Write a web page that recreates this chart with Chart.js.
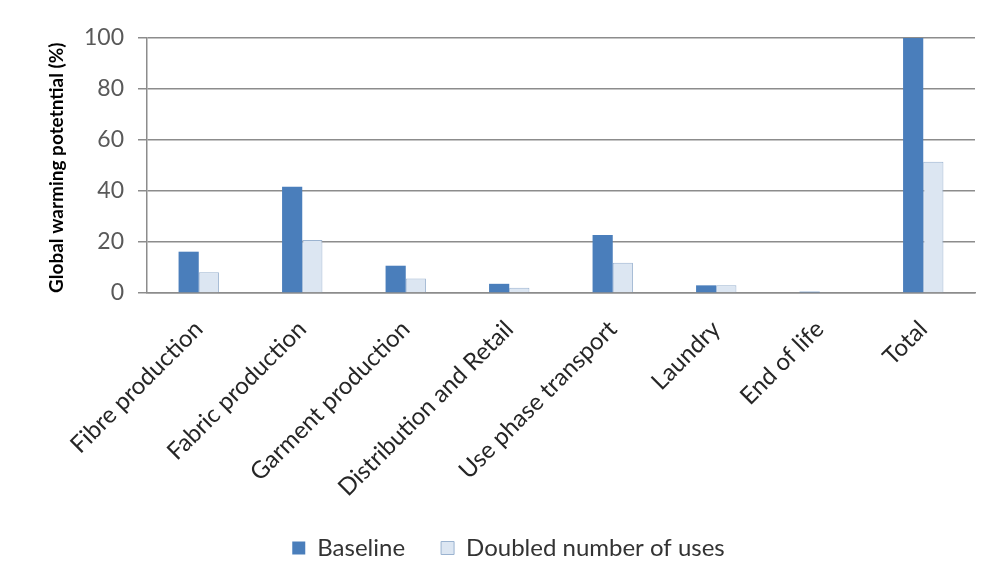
<!DOCTYPE html>
<html>
<head>
<meta charset="utf-8">
<script src="https://cdn.jsdelivr.net/npm/chart.js@4.4.1/dist/chart.umd.min.js"></script>
<style>
  html, body { margin: 0; padding: 0; background: #ffffff; }
  #wrap { width: 991px; height: 580px; position: relative; }
</style>
</head>
<body>
<div id="wrap"><canvas id="c" width="991" height="580"></canvas></div>
<script>
// Life-cycle stages of the garment
const stages = [
  'Fibre production',
  'Fabric production',
  'Garment production',
  'Distribution and Retail',
  'Use phase transport',
  'Laundry',
  'End of life',
  'Total'
];

// Global warming potential, % of baseline total
const baseline = [16.2, 41.7, 10.7, 3.6, 22.7, 3.0, 0.5, 100];
const doubledUses = [8.1, 20.8, 5.7, 2.1, 11.9, 3.0, 0.3, 51.5];

const seriesNames = ['Baseline', 'Doubled number of uses'];
const yTicks = [0, 20, 40, 60, 80, 100];

const FONT = 'Lato, "Open Sans", sans-serif';
const LEGEND_FONT = 24;
const LEGEND_PAD = 36;

// Places the bottom legend row at a fixed baseline under the axis labels
const legendPlacer = {
  id: 'legendPlacer',
  afterLayout(chart) {
    const lg = chart.legend;
    if (!lg) return;
    const dy = 548 - (lg.top + LEGEND_PAD + LEGEND_FONT / 2);
    const dx = 21;
    lg.top += dy; lg.bottom += dy;
    lg.left += dx; lg.right += dx;
  }
};

new Chart(document.getElementById('c'), {
  type: 'bar',
  data: {
    labels: stages,
    datasets: [
      {
        label: seriesNames[0],
        data: baseline,
        backgroundColor: '#4a7ebb',
        borderColor: '#4a7ebb',
        borderWidth: 0,
        categoryPercentage: 0.39,
        barPercentage: 1.0
      },
      {
        label: seriesNames[1],
        data: doubledUses,
        backgroundColor: '#dce6f2',
        borderColor: '#9bb3d0',
        borderWidth: 1,
        categoryPercentage: 0.39,
        barPercentage: 1.0
      }
    ]
  },
  plugins: [legendPlacer],
  options: {
    responsive: false,
    animation: false,
    devicePixelRatio: 1,
    layout: { padding: { left: 0, right: 16, top: 38, bottom: 0 } },
    plugins: {
      tooltip: { enabled: false },
      legend: {
        position: 'bottom',
        labels: {
          font: { family: FONT, size: LEGEND_FONT },
          color: '#333333',
          boxWidth: 13,
          boxHeight: 13,
          padding: LEGEND_PAD
        }
      }
    },
    scales: {
      x: {
        grid: { display: false, drawTicks: false },
        border: { display: true, color: '#8c8c8c', width: 1.5 },
        ticks: {
          autoSkip: false,
          minRotation: 45,
          maxRotation: 45,
          padding: 22,
          color: '#262626',
          font: { family: FONT, size: 24 }
        },
        afterFit: (s) => { s.height = 217; }
      },
      y: {
        min: 0,
        max: 100,
        afterBuildTicks: (s) => { s.ticks = yTicks.map(v => ({ value: v })); },
        grid: {
          color: '#8c8c8c',
          lineWidth: 1.5,
          tickLength: 9,
          drawTicks: true
        },
        border: { display: true, color: '#8c8c8c', width: 1.5 },
        ticks: {
          padding: 14,
          color: '#595959',
          font: { family: FONT, size: 23 }
        },
        title: {
          display: true,
          align: 'start',
          text: 'Global warming potetntial (%)',
          color: '#000000',
          font: { family: FONT, size: 19, weight: 'bold' },
          padding: { top: 45, bottom: 0 }
        },
        afterFit: (s) => { s.width = 147; }
      }
    }
  }
});
</script>
</body>
</html>
